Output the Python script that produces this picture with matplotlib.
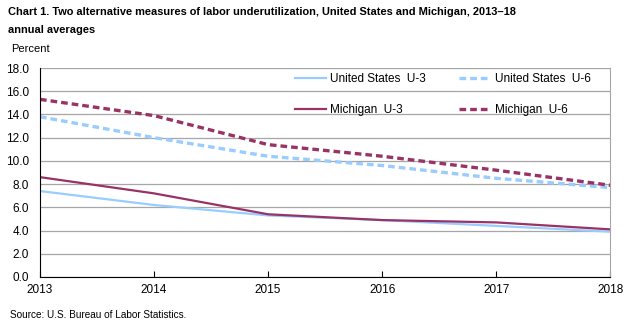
import matplotlib.pyplot as plt

plt.rcParams['font.family'] = ['Liberation Sans', 'DejaVu Sans']

years = [2013, 2014, 2015, 2016, 2017, 2018]
us_u3 = [7.4, 6.2, 5.3, 4.9, 4.4, 3.9]
us_u6 = [13.8, 12.0, 10.4, 9.6, 8.5, 7.7]
mi_u3 = [8.6, 7.2, 5.4, 4.9, 4.7, 4.1]
mi_u6 = [15.3, 13.9, 11.4, 10.4, 9.2, 7.9]

light_blue = '#99CCFF'
maroon = '#993366'

fig = plt.figure(figsize=(6.35, 3.27), dpi=100)
ax = fig.add_axes([0.063, 0.153, 0.898, 0.639])

l1, = ax.plot(years, us_u3, color=light_blue, lw=1.6, label='United States  U-3')
l2, = ax.plot(years, us_u6, color=light_blue, lw=2.4, ls=(0, (2.0, 1.2)),
              label='United States  U-6')
l3, = ax.plot(years, mi_u3, color=maroon, lw=1.6, label='Michigan  U-3')
l4, = ax.plot(years, mi_u6, color=maroon, lw=2.4, ls=(0, (2.0, 1.2)),
              label='Michigan  U-6')

ax.set_xlim(2013, 2018)
ax.set_ylim(0, 18)
ax.set_yticks([i * 2.0 for i in range(10)])
ax.set_yticklabels(['%.1f' % (i * 2.0) for i in range(10)])
ax.set_xticks(years)
ax.tick_params(axis='both', labelsize=8.5, length=4, color='black')
ax.tick_params(axis='y', length=0, pad=8)
ax.tick_params(axis='x', direction='in', pad=5)
ax.yaxis.grid(True, color='#A6A6A6', lw=0.9)
ax.set_axisbelow(True)

ax.spines['top'].set_visible(False)
ax.spines['right'].set_color('#A6A6A6')
ax.spines['left'].set_color('black')
ax.spines['bottom'].set_color('black')

ax.legend(handles=[l1, l3, l2, l4], ncol=2, frameon=False, fontsize=8.5,
          loc='upper right', bbox_to_anchor=(0.984, 1.025), handlelength=2.6,
          columnspacing=2.8, labelspacing=1.55, handletextpad=0.4)

fig.text(0.013, 0.978, 'Chart 1. Two alternative measures of labor underutilization, '
         'United States and Michigan, 2013\u201318\nannual averages',
         fontsize=7.9, fontweight='bold', va='top', ha='left', linespacing=2.0)
fig.text(0.017, 0.835, 'Percent', fontsize=8, va='bottom', ha='left')
fig.text(0.015, 0.02, 'Source: U.S. Bureau of Labor Statistics.', fontsize=7.2,
         va='bottom', ha='left')

fig.savefig('out.png', dpi=100)
